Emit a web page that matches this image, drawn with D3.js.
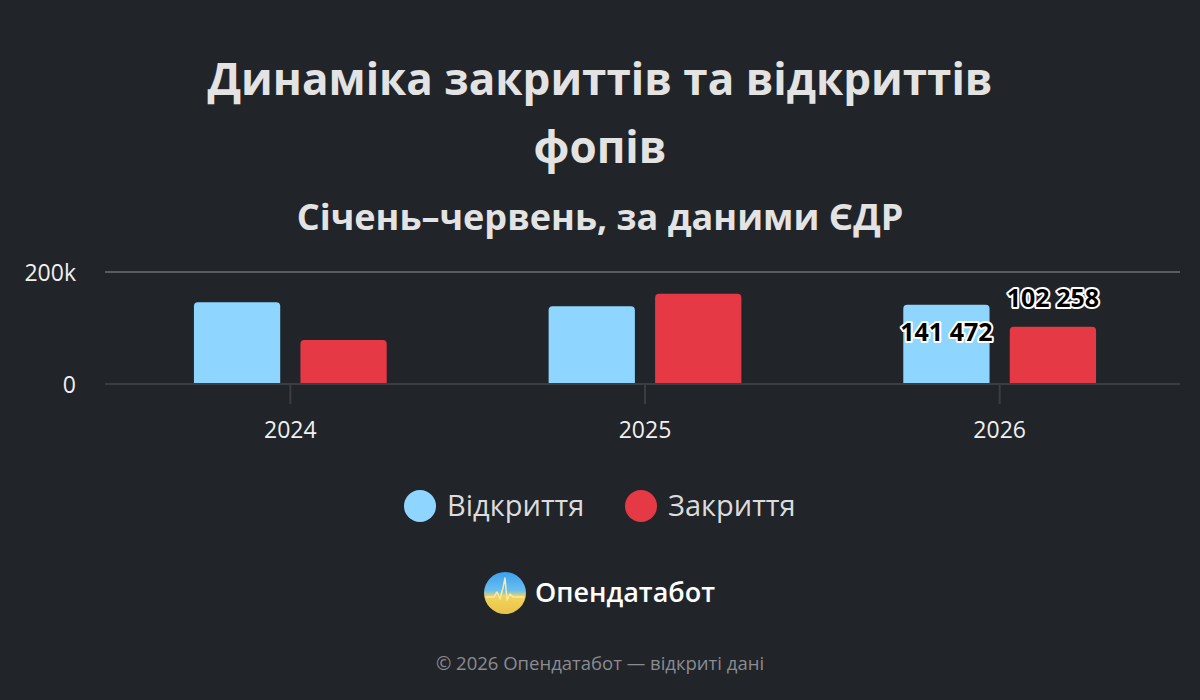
<!DOCTYPE html>
<html>
<head>
<meta charset="utf-8">
<script src="https://cdn.jsdelivr.net/npm/d3@7"></script>
<style>
  body { margin: 0; background: #212429; }
  svg { display: block; }
</style>
</head>
<body>
<div id="chart"></div>
<script>
// data
var years = ["2024", "2025", "2026"];
var series = ["Відкриття", "Закриття"];
var openings = [146000, 139000, 141472];
var closings = [78500, 161000, 102258];
var yTicks = [0, 200000];
var yTickLabels = ["0", "200k"];

var fontFamily = "'Open Sans', 'Noto Sans', sans-serif";
var bg = "#212429";
var colors = ["#8ed6ff", "#e63946"];

const width = 1200;
const height = 700;

var svg = d3.select("#chart").append("svg")
  .attr("width", width)
  .attr("height", height)
  .style("background-color", bg)
  .style("font-family", fontFamily);

// title
svg.append("text").attr("x", 600).attr("y", 95)
  .attr("text-anchor", "middle").attr("fill", "#e3e3e3")
  .attr("font-size", 44).attr("font-weight", "bold")
  .text("Динаміка закриттів та відкриттів");
svg.append("text").attr("x", 600).attr("y", 163)
  .attr("text-anchor", "middle").attr("fill", "#e3e3e3")
  .attr("font-size", 44).attr("font-weight", "bold")
  .text("фопів");
svg.append("text").attr("x", 600).attr("y", 230)
  .attr("text-anchor", "middle").attr("fill", "#e3e3e3")
  .attr("font-size", 36).attr("font-weight", "bold")
  .text("Січень–червень, за даними ЄДР");

// scales
var x = d3.scaleBand().domain(years).range([113, 1177]);
var x1 = d3.scaleBand().domain(series).range([0, x.bandwidth()]).paddingInner(0.19).paddingOuter(0.76);
var y = d3.scaleLinear().domain([0, 200000]).range([384, 272]);

// grid
svg.append("g").selectAll("line").data(yTicks).enter().append("line")
  .attr("x1", 105).attr("x2", 1180)
  .attr("y1", function(d){ return y(d); }).attr("y2", function(d){ return y(d); })
  .attr("stroke", function(d){ return d === 0 ? "#3a3d42" : "#5a5c60"; })
  .attr("stroke-width", 2);

svg.append("g").selectAll("text").data(yTicks).enter().append("text")
  .attr("x", 76).attr("y", function(d){ return y(d) + 9; })
  .attr("text-anchor", "end").attr("fill", "#f0f0f0").attr("font-size", 23)
  .text(function(d, i){ return yTickLabels[i]; });

// x axis ticks and labels
var xg = svg.append("g");
xg.selectAll("line").data(years).enter().append("line")
  .attr("x1", function(d){ return x(d) + x.bandwidth()/2; })
  .attr("x2", function(d){ return x(d) + x.bandwidth()/2; })
  .attr("y1", 384).attr("y2", 404)
  .attr("stroke", "#3a3d42").attr("stroke-width", 2);
xg.selectAll("text").data(years).enter().append("text")
  .attr("x", function(d){ return x(d) + x.bandwidth()/2; })
  .attr("y", 438).attr("text-anchor", "middle")
  .attr("fill", "#f0f0f0").attr("font-size", 23)
  .text(function(d){ return d; });

// bars with rounded tops
function barPath(x0, w, yTop, yBase, r) {
  return "M" + x0 + "," + yBase +
    "V" + (yTop + r) +
    "Q" + x0 + "," + yTop + " " + (x0 + r) + "," + yTop +
    "H" + (x0 + w - r) +
    "Q" + (x0 + w) + "," + yTop + " " + (x0 + w) + "," + (yTop + r) +
    "V" + yBase + "Z";
}

var rows = years.map(function(yr, i){ return { year: yr, values: [openings[i], closings[i]] }; });

var groups = svg.append("g").selectAll("g").data(rows).enter().append("g")
  .attr("transform", function(d){ return "translate(" + x(d.year) + ",0)"; });

groups.selectAll("path").data(function(d){
    return d.values.map(function(v, j){ return { s: series[j], v: v, j: j }; });
  }).enter().append("path")
  .attr("d", function(d){ return barPath(x1(d.s), x1.bandwidth(), y(d.v), y(0) - 1, 4); })
  .attr("fill", function(d){ return colors[d.j]; });

// data labels on the last year
var last = rows[rows.length - 1];
var fmt = function(v){ return d3.format(",")(v).replace(/,/g, " "); };
svg.append("g").selectAll("text").data(last.values).enter().append("text")
  .attr("x", function(d, j){ return x(last.year) + x1(series[j]) + x1.bandwidth()/2; })
  .attr("y", function(d, j){ return j === 0 ? y(d) + 36 : y(d) - 20; })
  .attr("text-anchor", "middle")
  .attr("font-size", 25).attr("font-weight", "bold")
  .attr("fill", "#000").attr("stroke", "#fff").attr("stroke-width", 4)
  .attr("paint-order", "stroke").attr("stroke-linejoin", "round")
  .text(function(d){ return fmt(d); });

// legend
var legend = svg.append("g");
var legendX = [420, 641];
series.forEach(function(s, i){
  legend.append("circle").attr("cx", legendX[i]).attr("cy", 506).attr("r", 16).attr("fill", colors[i]);
  legend.append("text").attr("x", legendX[i] + 27).attr("y", 516)
    .attr("fill", "#dcdcdc").attr("font-size", 29).text(s);
});

// logo
var defs = svg.append("defs");
var grad = defs.append("linearGradient").attr("id", "logoGrad")
  .attr("x1", 0).attr("y1", 0).attr("x2", 0).attr("y2", 1);
grad.append("stop").attr("offset", "0%").attr("stop-color", "#3aa0f0");
grad.append("stop").attr("offset", "45%").attr("stop-color", "#6cc0ee");
grad.append("stop").attr("offset", "58%").attr("stop-color", "#f2d45a");
grad.append("stop").attr("offset", "100%").attr("stop-color", "#e8c24a");
svg.append("circle").attr("cx", 505).attr("cy", 593).attr("r", 21).attr("fill", "url(#logoGrad)");
svg.append("path")
  .attr("d", "M486,597 L494,597 L497,592 L500,599 L503,588 L505,578 L507,600 L510,594 L513,597 L524,597")
  .attr("fill", "none").attr("stroke", "#f7e9a8").attr("stroke-width", 1.5).attr("stroke-linejoin", "round");
svg.append("text").attr("x", 535).attr("y", 602)
  .attr("fill", "#ffffff").attr("font-size", 27).attr("font-weight", 600)
  .text("Опендатабот");

// footer
svg.append("text").attr("x", 600).attr("y", 670)
  .attr("text-anchor", "middle").attr("fill", "#8a8c90").attr("font-size", 18.5)
  .text("© 2026 Опендатабот — відкриті дані");
</script>
</body>
</html>
